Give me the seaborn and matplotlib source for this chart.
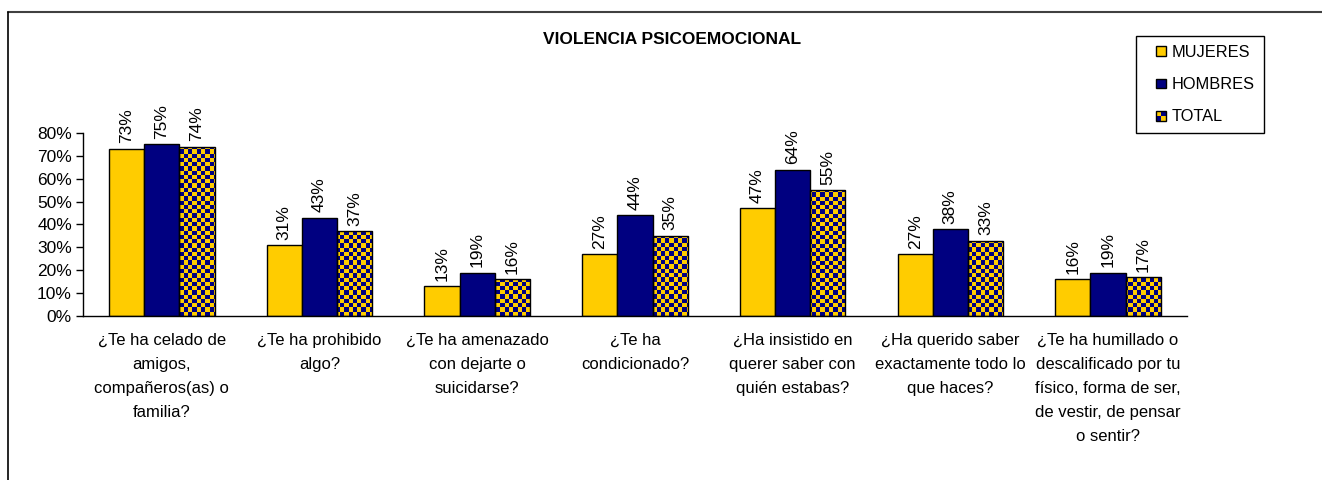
import pandas as pd
import numpy as np
import matplotlib
matplotlib.use("Agg")
import matplotlib.pyplot as plt
import seaborn as sns
from matplotlib.colors import ListedColormap
from matplotlib.lines import Line2D
from matplotlib.patches import Rectangle, Patch
from matplotlib.legend_handler import HandlerBase

# données
preguntas = [
    "¿Te ha celado de\namigos,\ncompañeros(as) o\nfamilia?",
    "¿Te ha prohibido\nalgo?",
    "¿Te ha amenazado\ncon dejarte o\nsuicidarse?",
    "¿Te ha\ncondicionado?",
    "¿Ha insistido en\nquerer saber con\nquién estabas?",
    "¿Ha querido saber\nexactamente todo lo\nque haces?",
    "¿Te ha humillado o\ndescalificado por tu\nfísico, forma de ser,\nde vestir, de pensar\no sentir?",
]
mujeres = [73, 31, 13, 27, 47, 27, 16]
hombres = [75, 43, 19, 44, 64, 38, 19]
total = [74, 37, 16, 35, 55, 33, 17]
grupos = ["MUJERES", "HOMBRES", "TOTAL"]
y_ticks = [0, 10, 20, 30, 40, 50, 60, 70, 80]

amarillo = "#FFCC00"
azul = "#000080"

df = pd.DataFrame({
    "pregunta": preguntas * 3,
    "valor": mujeres + hombres + total,
    "grupo": ["MUJERES"] * 7 + ["HOMBRES"] * 7 + ["TOTAL"] * 7,
})

sns.set_style("white")
plt.rcParams["font.family"] = ["Liberation Sans", "DejaVu Sans"]
plt.rcParams["text.color"] = "black"
plt.rcParams["xtick.color"] = "black"
plt.rcParams["ytick.color"] = "black"
plt.rcParams["axes.labelcolor"] = "black"

fig = plt.figure(figsize=(13.22, 4.8), dpi=100)
ax = fig.add_axes([0.0628, 0.3417, 0.835, 0.3812])

sns.barplot(data=df, x="pregunta", y="valor", hue="grupo", hue_order=grupos,
            palette=[amarillo, azul, amarillo], saturation=1, width=0.67,
            edgecolor="black", linewidth=1, legend=False, ax=ax)

# damier pour TOTAL : image coupée par chaque barre
ax_w = fig.get_figwidth() * fig.dpi * 0.835
ax_h = fig.get_figheight() * fig.dpi * 0.3812
nx, ny = int(ax_w / 4.2), int(ax_h / 4.2)
ii, jj = np.indices((ny, nx))
damier = (ii + jj) % 2
for barra in ax.containers[2]:
    im = ax.imshow(damier, cmap=ListedColormap([amarillo, azul]), extent=(0, 1, 0, 1),
                   transform=ax.transAxes, aspect="auto", interpolation="nearest", zorder=0.5)
    im.set_clip_path(barra)
    barra.set_facecolor("none")

ax.set_xlim(-0.5, 6.5)
ax.set_ylim(0, 80)

# étiquettes de valeurs
for cont, vals in zip(ax.containers, [mujeres, hombres, total]):
    ax.bar_label(cont, labels=[f"{v}%" for v in vals], rotation=90, padding=4, fontsize=12.5)

ax.set_yticks(y_ticks)
ax.set_yticklabels([f"{v}%" for v in y_ticks], fontsize=12.5)
ax.set_xticks(range(7))
ax.set_xticklabels(preguntas, fontsize=12, linespacing=1.75)
ax.set_xticks(np.arange(-0.5, 7, 1), minor=True)
ax.tick_params(axis="x", which="major", length=0, pad=12)
ax.tick_params(axis="x", which="minor", length=5, width=1, color="black", direction="out")
ax.tick_params(axis="y", length=5, width=1, color="black", direction="out", left=True, pad=3)
ax.set_xlabel("")
ax.set_ylabel("")
sns.despine(ax=ax)
for s in ["left", "bottom"]:
    ax.spines[s].set_color("black")
    ax.spines[s].set_linewidth(1)

fig.text(0.508, 1 - 40 / 480, "VIOLENCIA PSICOEMOCIONAL", ha="center", va="center",
         fontsize=12.5, fontweight="bold")


class HandlerCuadro(HandlerBase):
    # petit carré aligné à droite de la zone de la poignée
    def __init__(self, con_damier=False):
        super().__init__()
        self.con_damier = con_damier

    def create_artists(self, legend, orig_handle, xdescent, ydescent, width, height, fontsize, trans):
        lado = 0.6 * fontsize
        x0 = -xdescent + width - lado
        y0 = -ydescent + (height - lado) / 2
        artistas = [Rectangle((x0, y0), lado, lado, facecolor=orig_handle.get_facecolor(),
                              lw=0, transform=trans)]
        if self.con_damier:
            m = lado / 2
            artistas.append(Rectangle((x0 + m, y0 + m), m, m, facecolor=azul, lw=0, transform=trans))
            artistas.append(Rectangle((x0, y0), m, m, facecolor=azul, lw=0, transform=trans))
        artistas.append(Rectangle((x0, y0), lado, lado, facecolor="none", edgecolor="black",
                                  lw=1, transform=trans))
        return artistas


h_muj = Patch(facecolor=amarillo, edgecolor="black", lw=1)
h_hom = Patch(facecolor=azul, edgecolor="black", lw=1)
h_tot = Patch(facecolor=amarillo, edgecolor="black", lw=1)
leg = fig.legend([h_muj, h_hom, h_tot], grupos, loc="upper left",
                 bbox_to_anchor=(1136 / 1322, 1 - 36 / 480), bbox_transform=fig.transFigure,
                 handler_map={h_muj: HandlerCuadro(), h_hom: HandlerCuadro(),
                              h_tot: HandlerCuadro(con_damier=True)},
                 fontsize=11.8, handlelength=1.25, handleheight=0.7, handletextpad=0.4,
                 labelspacing=1.05, borderpad=0.55, borderaxespad=0,
                 fancybox=False, framealpha=1, edgecolor="black")
leg.get_frame().set_linewidth(1)

# cadre du graphique
fig.add_artist(Line2D([8 / 1322, 1], [1 - 12 / 480, 1 - 12 / 480], transform=fig.transFigure,
                      color="#404040", lw=1.5))
fig.add_artist(Line2D([8 / 1322, 8 / 1322], [0, 1 - 12 / 480], transform=fig.transFigure,
                      color="black", lw=1.2))

fig.savefig("out.png", dpi=100)
